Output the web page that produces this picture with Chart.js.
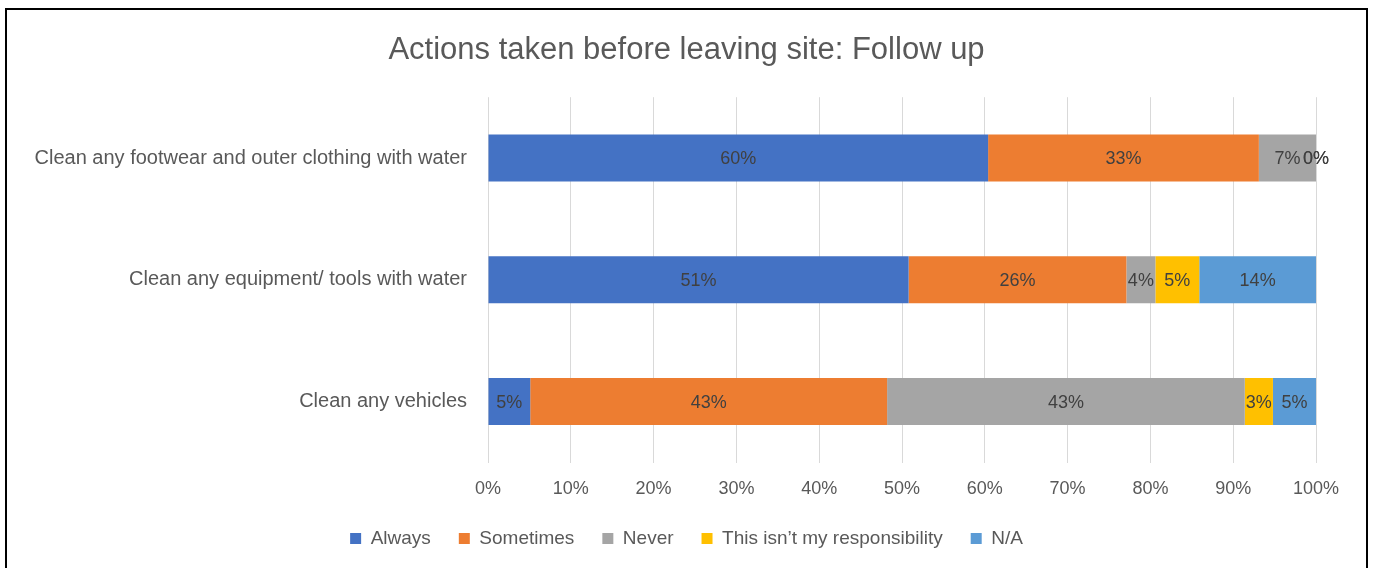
<!DOCTYPE html>
<html>
<head>
<meta charset="utf-8">
<script src="https://cdn.jsdelivr.net/npm/chart.js@4.4.1/dist/chart.umd.min.js"></script>
<style>
  html, body { margin:0; padding:0; background:#fff; }
  #frame { position:absolute; left:5px; top:8px; width:1363px; height:570px; border:2px solid #000; box-sizing:border-box; }
  #wrap { position:absolute; left:0; top:0; width:1373px; height:568px; }
</style>
</head>
<body>
<div id="frame"></div>
<div id="wrap"><canvas id="c" width="1373" height="568"></canvas></div>
<script>
const categories = [
  "Clean any footwear and outer clothing with water",
  "Clean any equipment/ tools with water",
  "Clean any vehicles"
];
const seriesNames = ["Always", "Sometimes", "Never", "This isn\u2019t my responsibility", "N/A"];
const always = [60.4, 50.8, 5.1];
const sometimes = [32.7, 26.3, 43.1];
const never = [6.9, 3.5, 43.2];
const notMine = [0, 5.3, 3.4];
const na = [0, 14.1, 5.2];
const xTicks = [0,10,20,30,40,50,60,70,80,90,100];
const colors = ["#4472C4", "#ED7D31", "#A5A5A5", "#FFC000", "#5B9BD5"];
const seriesValues = [always, sometimes, never, notMine, na];

const FONT = "'Liberation Sans', Arial, sans-serif";

const labelPlugin = {
  id: 'barLabels',
  afterDatasetsDraw(chart) {
    const ctx = chart.ctx;
    ctx.save();
    ctx.font = "18px " + FONT;
    ctx.fillStyle = "#404040";
    ctx.textAlign = "center";
    ctx.textBaseline = "middle";
    chart.data.datasets.forEach((ds, di) => {
      const meta = chart.getDatasetMeta(di);
      meta.data.forEach((el, i) => {
        const v = ds.data[i];
        const cx = (el.x + el.base) / 2;
        ctx.fillText(Math.round(v) + "%", cx, el.y + 1);
      });
    });
    ctx.restore();
  }
};

// centre title and legend on the whole canvas width
const centerPlugin = {
  id: 'centerBlocks',
  afterLayout(chart) {
    [chart.titleBlock, chart.legend].forEach(b => {
      if (!b) return;
      b.left = 0;
      b.right = chart.width;
      b.width = chart.width;
    });
  }
};

new Chart(document.getElementById('c'), {
  type: 'bar',
  data: {
    labels: categories,
    datasets: seriesNames.map((n, i) => ({
      label: n,
      data: seriesValues[i],
      backgroundColor: colors[i],
      borderWidth: 0,
      barPercentage: 0.386,
      categoryPercentage: 1.0
    }))
  },
  options: {
    indexAxis: 'y',
    responsive: false,
    animation: false,
    layout: { padding: { top: 32, right: 57, bottom: 10, left: 10 } },
    plugins: {
      title: {
        display: true,
        text: "Actions taken before leaving site: Follow up",
        color: "#595959",
        font: { family: FONT, size: 31, weight: 'normal' },
        padding: { top: 0, bottom: 28 }
      },
      legend: {
        position: 'bottom',
        labels: {
          color: "#595959",
          font: { family: FONT, size: 19 },
          usePointStyle: true,
          pointStyle: 'rect',
          boxWidth: 11,
          boxHeight: 11,
          padding: 28
        }
      },
      tooltip: { enabled: false }
    },
    scales: {
      x: {
        stacked: true,
        min: 0, max: 100,
        afterBuildTicks(scale) { scale.ticks = xTicks.map(v => ({ value: v })); },
        ticks: {
          callback: v => v + "%",
          color: "#595959",
          font: { family: FONT, size: 18 },
          padding: 16
        },
        grid: { color: "#D9D9D9", lineWidth: 1, drawTicks: false },
        border: { display: false },
        afterFit(scale) { scale.height = 38.5; }
      },
      y: {
        stacked: true,
        ticks: {
          color: "#595959",
          font: { family: FONT, size: 20 },
          padding: 21
        },
        grid: { display: false, drawTicks: false },
        border: { display: false },
        afterFit(scale) { scale.width = 478; }
      }
    }
  },
  plugins: [labelPlugin, centerPlugin]
});
</script>
</body>
</html>
